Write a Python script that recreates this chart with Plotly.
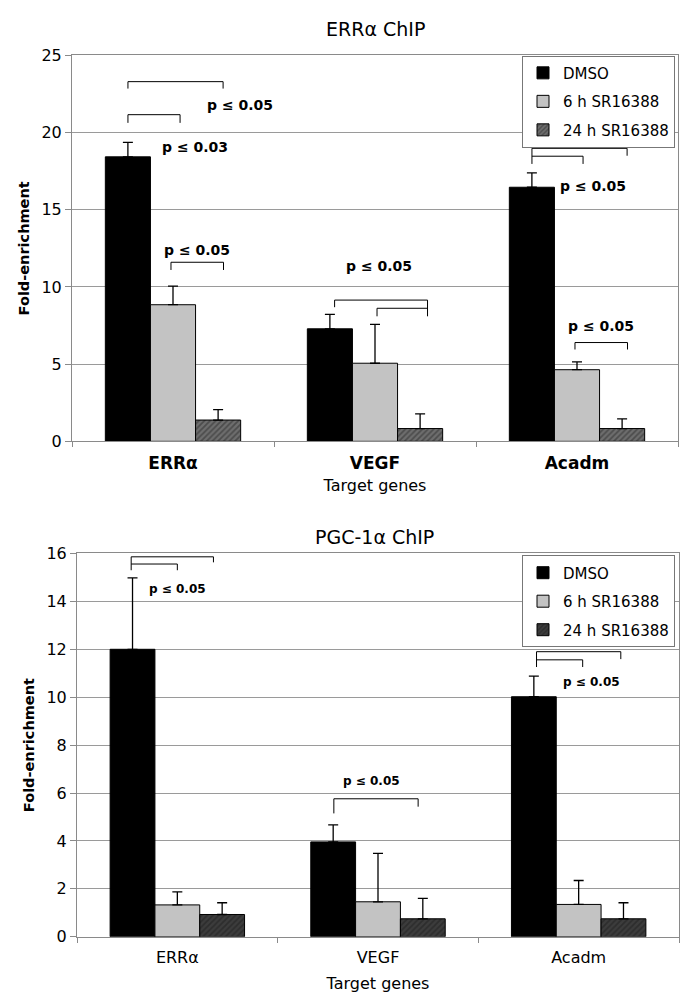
import plotly.graph_objects as go

# ---------------- data ----------------
genes = ["ERRα", "VEGF", "Acadm"]
series = ["DMSO", "6 h SR16388", "24 h SR16388"]

# ERRα ChIP (top panel)
err_dmso = [18.43, 7.29, 16.46]
err_dmso_sd = [0.93, 0.93, 0.93]
err_6h = [8.85, 5.06, 4.64]
err_6h_sd = [1.20, 2.52, 0.51]
err_24h = [1.38, 0.83, 0.83]
err_24h_sd = [0.67, 0.95, 0.63]

# PGC-1α ChIP (bottom panel)
pgc_dmso = [12.0, 3.96, 10.02]
pgc_dmso_sd = [2.98, 0.71, 0.86]
pgc_6h = [1.33, 1.46, 1.35]
pgc_6h_sd = [0.54, 2.02, 1.00]
pgc_24h = [0.93, 0.75, 0.75]
pgc_24h_sd = [0.49, 0.85, 0.67]

# significance brackets: (category index, left offset, right offset, top y, left leg end y, right leg end y)
brackets_top = [
    (0, -0.223, 0.248, 23.3, 22.85, 22.85),
    (0, -0.223, 0.035, 21.16, 20.63, 20.63),
    (0, -0.01, 0.25, 11.6, 11.1, 11.1),
    (1, -0.20, 0.26, 9.15, 8.69, 8.1),
    (1, 0.01, 0.26, 8.62, 8.1, 8.62),
    (2, -0.223, 0.248, 18.98, 17.97, 18.5),
    (2, -0.223, 0.03, 18.47, 18.47, 17.97),
    (2, -0.01, 0.25, 6.4, 5.95, 5.95),
]
brackets_bottom = [
    (0, -0.23, 0.18, 15.86, 15.3, 15.63),
    (0, -0.23, 0.0, 15.56, 15.56, 15.3),
    (1, -0.22, 0.20, 5.76, 5.15, 5.43),
    (2, -0.21, 0.21, 11.9, 11.26, 11.59),
    (2, -0.21, 0.02, 11.56, 11.56, 11.26),
]
# p-value labels: (category index, offset, y, text)
plabels_top = [
    (0, 0.33, 21.8, "p ≤ 0.05"),
    (0, 0.11, 19.05, "p ≤ 0.03"),
    (0, 0.12, 12.4, "p ≤ 0.05"),
    (1, 0.02, 11.37, "p ≤ 0.05"),
    (2, 0.08, 16.57, "p ≤ 0.05"),
    (2, 0.12, 7.48, "p ≤ 0.05"),
]
plabels_bottom = [
    (0, 0.0, 14.53, "p ≤ 0.05"),
    (1, -0.03, 6.51, "p ≤ 0.05"),
    (2, 0.065, 10.65, "p ≤ 0.05"),
]

FONT = "DejaVu Sans"
GRID = "#9a9a9a"
AX = "#8a8a8a"

fig = go.Figure()


def add_panel(vals, sds, xa, ya, legend, hatch_bg, hatch_fg):
    styles = [
        dict(color="#000000"),
        dict(color="#c3c3c3"),
        dict(color=hatch_bg, pattern=dict(shape="/", fgcolor=hatch_fg, bgcolor=hatch_bg, size=4, solidity=0.45)),
    ]
    for i, (name, v, sd) in enumerate(zip(series, vals, sds)):
        m = dict(styles[i])
        m["line"] = dict(color="#000000", width=1)
        fig.add_trace(go.Bar(
            x=genes, y=v, name=name, marker=m,
            error_y=dict(type="data", array=sd, arrayminus=[0] * len(sd), symmetric=False,
                         color="#000000", thickness=1.3, width=5),
            xaxis=xa, yaxis=ya, legend=legend, legendgroup=legend + name,
        ))


add_panel([err_dmso, err_6h, err_24h], [err_dmso_sd, err_6h_sd, err_24h_sd],
          "x", "y", "legend", "#6e6e6e", "#2a2a2a")
add_panel([pgc_dmso, pgc_6h, pgc_24h], [pgc_dmso_sd, pgc_6h_sd, pgc_24h_sd],
          "x2", "y2", "legend2", "#3c3c3c", "#1e1e1e")

shapes = []
annotations = []


def add_brackets(brs, xref, yref):
    for (c, l, r, yt, yl, yr) in brs:
        xl, xr = c + l, c + r
        ln = dict(color="#000000", width=1)
        shapes.append(dict(type="line", xref=xref, yref=yref, x0=xl, x1=xr, y0=yt, y1=yt, line=ln))
        if yl != yt:
            shapes.append(dict(type="line", xref=xref, yref=yref, x0=xl, x1=xl, y0=yl, y1=yt, line=ln))
        if yr != yt:
            shapes.append(dict(type="line", xref=xref, yref=yref, x0=xr, x1=xr, y0=yr, y1=yt, line=ln))


def add_plabels(pls, xref, yref, size):
    for (c, o, y, t) in pls:
        annotations.append(dict(x=c + o, y=y, xref=xref, yref=yref, text=t, showarrow=False,
                                font=dict(family=FONT, size=size, color="#000000", weight="bold"),
                                xanchor="center", yanchor="middle"))


add_brackets(brackets_top, "x", "y")
add_brackets(brackets_bottom, "x2", "y2")
add_plabels(plabels_top, "x", "y", 14)
add_plabels(plabels_bottom, "x2", "y2", 12)

annotations.append(dict(x=375 / 686, y=1 - 20 / 1002, xref="paper", yref="paper", text="ERRα ChIP",
                        showarrow=False, font=dict(family=FONT, size=19, color="#000"),
                        xanchor="center", yanchor="middle"))
annotations.append(dict(x=374 / 686, y=1 - 538 / 1002, xref="paper", yref="paper", text="PGC-1α ChIP",
                        showarrow=False, font=dict(family=FONT, size=19, color="#000"),
                        xanchor="center", yanchor="middle"))

xcommon = dict(type="category", range=[-0.5, 2.5], showline=True, linecolor=AX, linewidth=1, mirror=True,
               ticks="outside", tickson="boundaries", ticklen=5, tickcolor=AX, showgrid=False,
               ticklabelstandoff=6)

xa1 = dict(xcommon, domain=[72 / 686, 678 / 686], anchor="y",
           tickfont=dict(family=FONT, size=17, color="#000", weight="bold"),
           title=dict(text="Target genes", font=dict(family=FONT, size=16, color="#000"), standoff=8))
xa2 = dict(xcommon, domain=[77 / 686, 679 / 686], anchor="y2",
           tickfont=dict(family=FONT, size=16, color="#000"),
           title=dict(text="Target genes", font=dict(family=FONT, size=16, color="#000"), standoff=11))

ycommon = dict(showline=True, linecolor=AX, linewidth=1, mirror=True, ticks="outside", ticklen=6,
               tickcolor=AX, showgrid=True, gridcolor=GRID, gridwidth=1, zeroline=False,
               tickfont=dict(family=FONT, size=16, color="#000"),
               title=dict(text="Fold-enrichment", font=dict(family=FONT, size=14.5, color="#000", weight="bold"),
                          standoff=8))
ya1 = dict(ycommon, domain=[1 - 440.7 / 1002, 1 - 47.3 / 1002], anchor="x", range=[0, 25], dtick=5)
ya2 = dict(ycommon, domain=[1 - 945.7 / 1002, 1 - 555 / 1002], anchor="x2", range=[0, 16], dtick=2)

legcommon = dict(bgcolor="#ffffff", bordercolor="#777777", borderwidth=1,
                 font=dict(family=FONT, size=15, color="#000"), tracegroupgap=6,
                 traceorder="grouped", xanchor="right", yanchor="top", itemwidth=30)

fig.update_layout(
    width=686, height=1002, margin=dict(l=0, r=0, t=0, b=0),
    paper_bgcolor="#ffffff", plot_bgcolor="#ffffff",
    barmode="group", bargap=0.33, bargroupgap=0,
    font=dict(family=FONT, color="#000"),
    xaxis=xa1, yaxis=ya1, xaxis2=xa2, yaxis2=ya2,
    legend=dict(legcommon, x=675 / 686, y=1 - 47.5 / 1002),
    legend2=dict(legcommon, x=675 / 686, y=1 - 557 / 1002),
    shapes=shapes, annotations=annotations,
)

fig.write_html("out.html")
